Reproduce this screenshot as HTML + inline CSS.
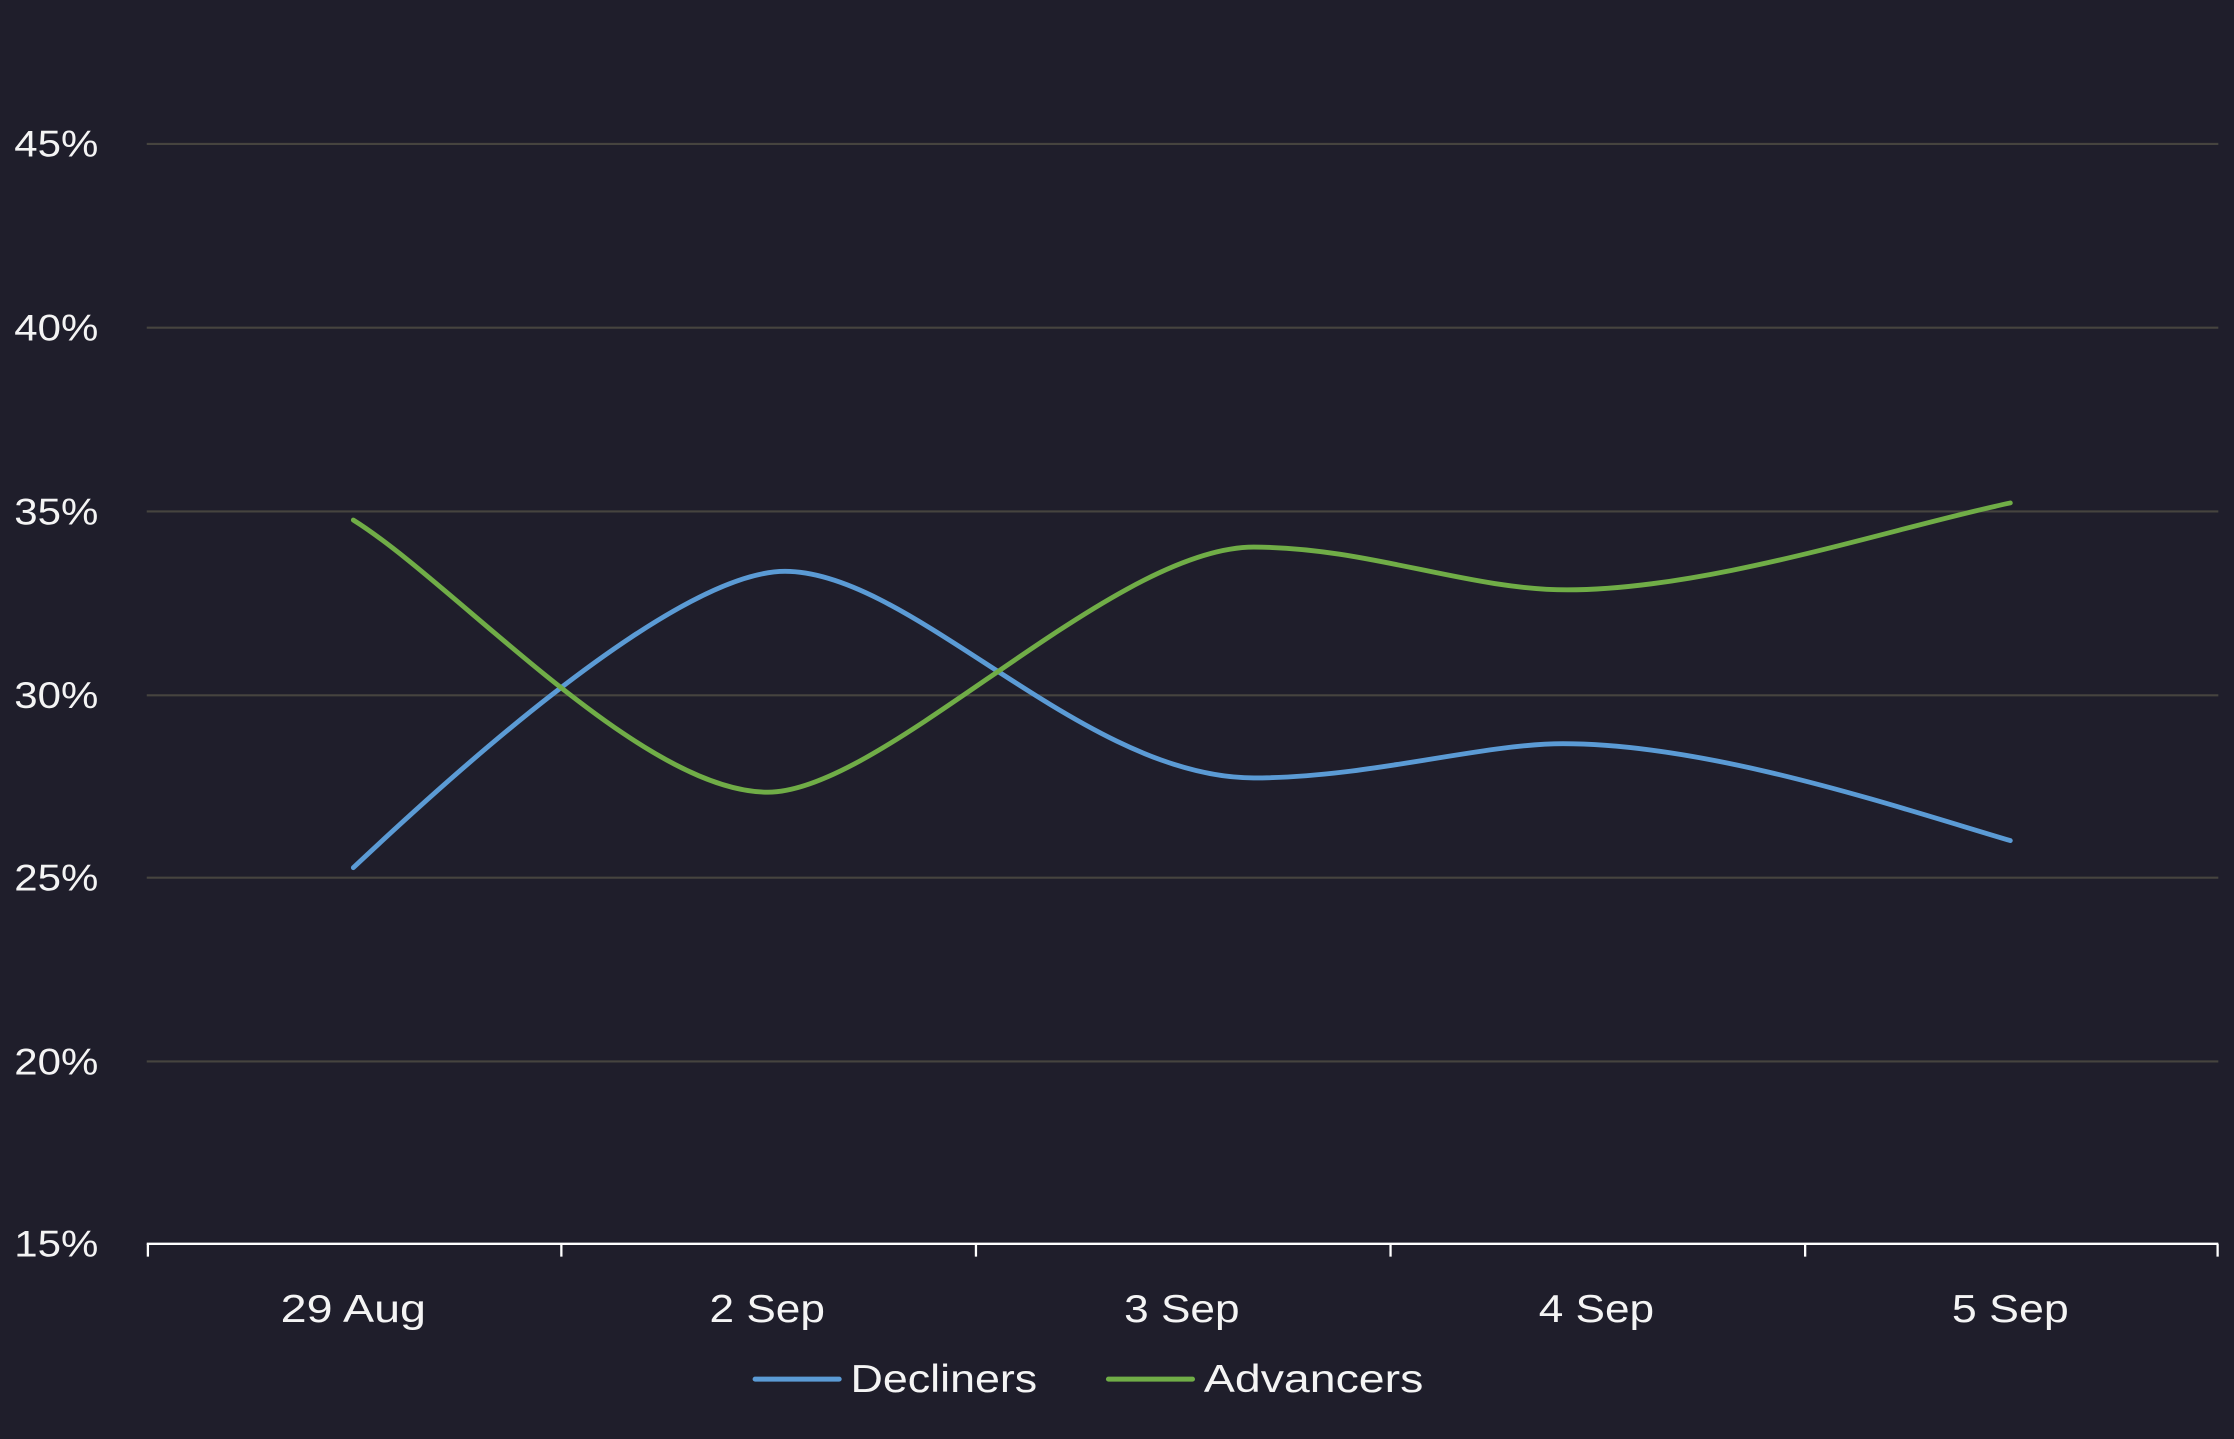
<!DOCTYPE html>
<html><head><meta charset="utf-8"><style>
html,body{margin:0;padding:0;background:#1f1e2b;}
svg{display:block;}
text{font-family:"Liberation Sans",sans-serif;fill:#f4f4f4;}
</style></head><body>
<svg width="2234" height="1439" viewBox="0 0 1568 1010" preserveAspectRatio="none" xmlns="http://www.w3.org/2000/svg">
<rect width="1568" height="1010" fill="#1f1e2b"/>
<g stroke="#46443f" stroke-width="1.5">
<line x1="103" y1="101" x2="1557" y2="101"/>
<line x1="103" y1="230" x2="1557" y2="230"/>
<line x1="103" y1="359" x2="1557" y2="359"/>
<line x1="103" y1="488" x2="1557" y2="488"/>
<line x1="103" y1="616" x2="1557" y2="616"/>
<line x1="103" y1="745" x2="1557" y2="745"/>
</g>
<g stroke="#ffffff" stroke-width="1.6">
<line x1="103" y1="873" x2="1557" y2="873"/>
<line x1="103.8" y1="873" x2="103.8" y2="882"/>
<line x1="394" y1="873" x2="394" y2="882"/>
<line x1="685" y1="873" x2="685" y2="882"/>
<line x1="976" y1="873" x2="976" y2="882"/>
<line x1="1267" y1="873" x2="1267" y2="882"/>
<line x1="1556.5" y1="873" x2="1556.5" y2="882"/>
</g>
<g font-size="26">
<text x="10" y="110" textLength="59" lengthAdjust="spacingAndGlyphs">45%</text>
<text x="10" y="239" textLength="59" lengthAdjust="spacingAndGlyphs">40%</text>
<text x="10" y="368" textLength="59" lengthAdjust="spacingAndGlyphs">35%</text>
<text x="10" y="497" textLength="59" lengthAdjust="spacingAndGlyphs">30%</text>
<text x="10" y="625" textLength="59" lengthAdjust="spacingAndGlyphs">25%</text>
<text x="10" y="754" textLength="59" lengthAdjust="spacingAndGlyphs">20%</text>
<text x="10" y="882" textLength="59" lengthAdjust="spacingAndGlyphs">15%</text>
</g>
<g font-size="27">
<text x="197" y="928" textLength="102" lengthAdjust="spacingAndGlyphs">29 Aug</text>
<text x="498" y="928" textLength="81" lengthAdjust="spacingAndGlyphs">2 Sep</text>
<text x="789" y="928" textLength="81" lengthAdjust="spacingAndGlyphs">3 Sep</text>
<text x="1080" y="928" textLength="81" lengthAdjust="spacingAndGlyphs">4 Sep</text>
<text x="1370" y="928" textLength="82" lengthAdjust="spacingAndGlyphs">5 Sep</text>
</g>
<path d="M248,609 C300,560 470,401 551,401 C640,401 760,546 880,546 C960,546 1040,522 1097,522 C1200,522 1330,566 1411,590" fill="none" stroke="#5b9bd5" stroke-width="3.4" stroke-linecap="round"/>
<path d="M248,365 C320,410 450,556 539,556 C620,556 780,384 880,384 C960,384 1030,414 1100,414 C1200,414 1330,370 1411,353" fill="none" stroke="#70ad47" stroke-width="3.4" stroke-linecap="round"/>
<line x1="530" y1="968" x2="589" y2="968" stroke="#5b9bd5" stroke-width="3.5" stroke-linecap="round"/>
<text x="597" y="977" font-size="27" textLength="131" lengthAdjust="spacingAndGlyphs">Decliners</text>
<line x1="778" y1="968" x2="837" y2="968" stroke="#70ad47" stroke-width="3.5" stroke-linecap="round"/>
<text x="845" y="977" font-size="27" textLength="154" lengthAdjust="spacingAndGlyphs">Advancers</text>
</svg>
</body></html>
